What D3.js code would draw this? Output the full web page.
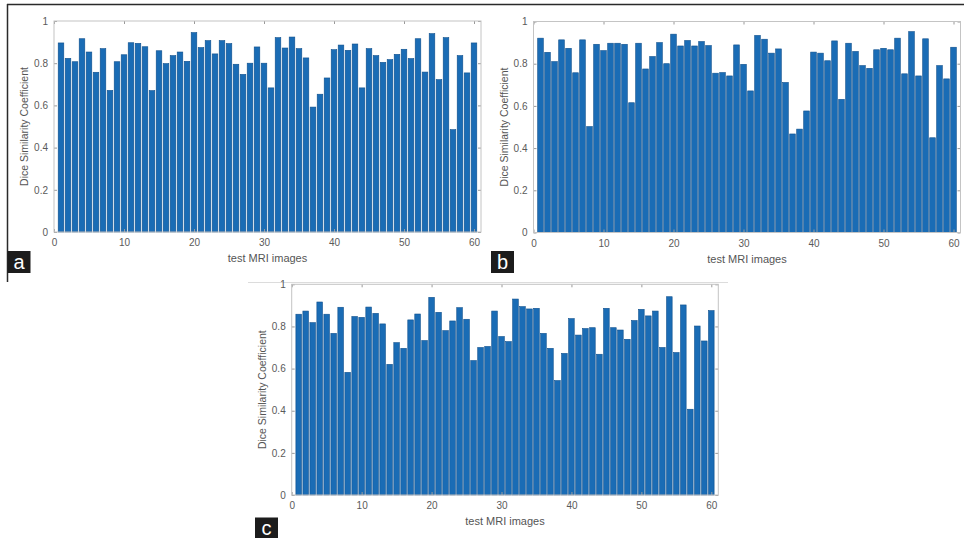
<!DOCTYPE html>
<html>
<head>
<meta charset="utf-8">
<script src="https://cdn.jsdelivr.net/npm/d3@7"></script>
<style>
  body { margin: 0; background: #fff; }
  svg { display: block; font-family: "Liberation Sans", Arial, sans-serif; }
  .tick text { fill: #5a5a5a; font-size: 10px; }
  .tick line { stroke: #9a9a9a; }
  .label { fill: #555; }
</style>
</head>
<body>
<div id="chart"></div>
<script>
// Dice similarity coefficient for each of the 60 test MRI images
const dscA = [0.896,0.823,0.807,0.916,0.853,0.757,0.869,0.671,0.807,0.840,0.897,0.894,0.878,0.670,0.859,0.798,0.836,0.853,0.809,0.945,
              0.874,0.907,0.844,0.907,0.893,0.795,0.747,0.800,0.877,0.800,0.683,0.921,0.872,0.924,0.869,0.825,0.592,0.653,0.730,0.864,
              0.886,0.861,0.891,0.683,0.869,0.836,0.804,0.817,0.842,0.866,0.822,0.916,0.758,0.940,0.722,0.921,0.485,0.836,0.754,0.896];
const dscB = [0.921,0.854,0.810,0.913,0.873,0.757,0.913,0.502,0.892,0.862,0.897,0.897,0.892,0.615,0.897,0.775,0.834,0.900,0.800,0.940,
              0.884,0.910,0.884,0.905,0.886,0.755,0.758,0.742,0.889,0.797,0.671,0.934,0.916,0.850,0.870,0.711,0.467,0.490,0.576,0.855,
              0.850,0.814,0.908,0.631,0.897,0.858,0.791,0.778,0.866,0.873,0.866,0.921,0.752,0.952,0.742,0.918,0.449,0.791,0.728,0.878];
const dscC = [0.858,0.873,0.818,0.916,0.858,0.767,0.891,0.582,0.847,0.843,0.892,0.862,0.812,0.620,0.723,0.696,0.831,0.859,0.733,0.938,
              0.867,0.780,0.826,0.889,0.834,0.638,0.700,0.705,0.873,0.752,0.728,0.930,0.894,0.883,0.886,0.767,0.696,0.543,0.672,0.837,
              0.759,0.790,0.794,0.668,0.886,0.794,0.783,0.739,0.828,0.881,0.850,0.873,0.700,0.941,0.676,0.902,0.407,0.802,0.731,0.875];

const xTicks = [0, 10, 20, 30, 40, 50, 60];
const yTicks = [0, 0.2, 0.4, 0.6, 0.8, 1];
const yTickLabels = ["0", "0.2", "0.4", "0.6", "0.8", "1"];
const xTitle = "test MRI images";
const yTitle = "Dice Similarity Coefficient";

const width = 964, height = 538;

const svg = d3.select("#chart")
  .append("svg")
    .attr("width", width)
    .attr("height", height);

// figure frame
svg.append("line")
  .attr("x1", 7).attr("x2", width).attr("y1", 4.5).attr("y2", 4.5)
  .attr("stroke", "#2a2a2a").attr("stroke-width", 1.5);
svg.append("line")
  .attr("x1", 7.5).attr("x2", 7.5).attr("y1", 4).attr("y2", 282)
  .attr("stroke", "#2a2a2a").attr("stroke-width", 1.5);
svg.append("line")
  .attr("x1", 248).attr("x2", 728).attr("y1", 282.5).attr("y2", 282.5)
  .attr("stroke", "#dcdcdc").attr("stroke-width", 1);

const panels = [
  {values: dscA, letter: "a", left: 54,    top: 21,    w: 427, h: 211, box: [7.5, 251]},
  {values: dscB, letter: "b", left: 533.5, top: 21.5,  w: 427, h: 211, box: [491, 251]},
  {values: dscC, letter: "c", left: 291.7, top: 284.3, w: 426.6, h: 210.7, box: [255, 517.5]}
];

panels.forEach(function(p) {
  const g = svg.append("g")
    .attr("transform", "translate(" + p.left + "," + p.top + ")");

  const idx = d3.range(1, p.values.length + 1);

  const xScale = d3.scaleLinear().domain([0, 61]).range([0, p.w]);
  const yScale = d3.scaleLinear().domain([0, 1]).range([p.h, 0]);
  const band = xScale(0.8) - xScale(0);

  // bars
  g.append("g")
    .selectAll("rect")
    .data(p.values)
    .enter()
    .append("rect")
      .attr("x", function(d, i) { return xScale(idx[i]) - band / 2; })
      .attr("y", function(d) { return yScale(d); })
      .attr("width", band)
      .attr("height", function(d) { return p.h - yScale(d); })
      .attr("fill", "#1a6cb5")
      .attr("stroke", "#0e4f8c")
      .attr("stroke-width", 0.6);

  // axes, ticks pointing inwards like MATLAB
  g.append("g")
    .attr("transform", "translate(0," + p.h + ")")
    .call(d3.axisBottom(xScale).tickValues(xTicks).tickSize(-3).tickPadding(7))
    .call(function(a) { a.select(".domain").remove(); });
  g.append("g")
    .call(d3.axisTop(xScale).tickValues(xTicks).tickSize(-3).tickFormat(""))
    .call(function(a) { a.select(".domain").remove(); });
  g.append("g")
    .call(d3.axisLeft(yScale).tickValues(yTicks).tickSize(-3).tickPadding(6)
      .tickFormat(function(d, i) { return yTickLabels[i]; }))
    .call(function(a) { a.select(".domain").remove(); });
  g.append("g")
    .attr("transform", "translate(" + p.w + ",0)")
    .call(d3.axisRight(yScale).tickValues(yTicks).tickSize(-3).tickFormat(""))
    .call(function(a) { a.select(".domain").remove(); });

  g.append("rect")
    .attr("width", p.w).attr("height", p.h)
    .attr("fill", "none").attr("stroke", "#c4c4c4").attr("stroke-width", 1);

  g.append("text")
    .attr("class", "label")
    .attr("x", p.w / 2)
    .attr("y", p.h + 30)
    .attr("text-anchor", "middle")
    .attr("font-size", 11)
    .text(xTitle);

  g.append("text")
    .attr("class", "label")
    .attr("transform", "translate(-26," + (p.h / 2) + ") rotate(-90)")
    .attr("text-anchor", "middle")
    .attr("font-size", 10.5)
    .text(yTitle);

  // panel letter
  svg.append("rect")
    .attr("x", p.box[0]).attr("y", p.box[1])
    .attr("width", 23).attr("height", 22)
    .attr("fill", "#1c1c1c");
  svg.append("text")
    .attr("x", p.box[0] + 11.5).attr("y", p.box[1] + 17.5)
    .attr("text-anchor", "middle")
    .attr("fill", "#fff")
    .attr("font-size", 20)
    .text(p.letter);
});
</script>
</body>
</html>
